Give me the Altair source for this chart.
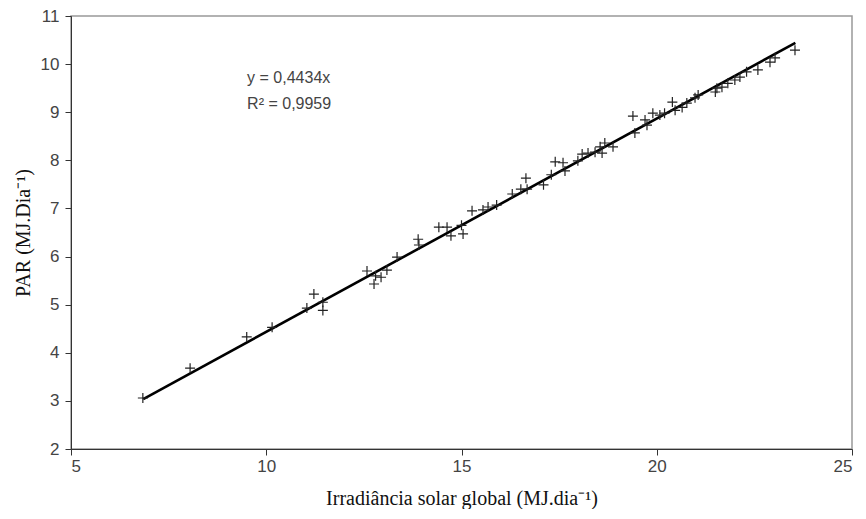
import altair as alt
import pandas as pd

# Data
irr = [6.84, 8.05, 9.5, 10.15, 11.04, 11.22, 11.45, 11.45, 12.58, 12.76, 12.94, 12.8, 13.09,
       13.35, 13.89, 13.91, 14.42, 14.63, 14.73, 15.0, 15.04, 15.27, 15.55, 15.68, 15.9,
       16.3, 16.52, 16.65, 16.68, 17.1, 17.3, 17.4, 17.6, 17.65, 17.98, 18.09, 18.24,
       18.42, 18.55, 18.6, 18.67, 18.88, 19.39, 19.44, 19.7, 19.75, 19.9, 20.08, 20.2,
       20.4, 20.47, 20.65, 20.77, 20.98, 21.06, 21.5, 21.54, 21.67, 21.82, 22.0, 22.13,
       22.3, 22.59, 22.9, 23.03, 23.54]
par = [3.06, 3.68, 4.33, 4.53, 4.93, 5.22, 5.05, 4.88, 5.70, 5.43, 5.57, 5.6, 5.72,
       5.99, 6.36, 6.24, 6.61, 6.61, 6.43, 6.65, 6.47, 6.95, 6.97, 7.03, 7.07,
       7.3, 7.4, 7.63, 7.4, 7.49, 7.7, 7.97, 7.95, 7.78, 7.99, 8.13, 8.15,
       8.17, 8.28, 8.15, 8.36, 8.28, 8.92, 8.57, 8.84, 8.73, 8.98, 8.94, 8.98,
       9.21, 9.04, 9.1, 9.19, 9.3, 9.36, 9.42, 9.5, 9.52, 9.6, 9.67, 9.73,
       9.84, 9.88, 10.04, 10.13, 10.29]

slope = 0.4434
line_x = [6.85, 23.55]
ann_x = [9.51, 9.51]
ann_y = [9.71, 9.17]
ann_text = ["y = 0,4434x", "R² = 0,9959"]

pts = pd.DataFrame({"x": irr, "y": par})
fit = pd.DataFrame({"x": line_x, "y": [slope * v for v in line_x]})
ann = pd.DataFrame({"x": ann_x, "y": ann_y, "t": ann_text})

xs = alt.Scale(domain=[5, 25], nice=False, zero=False)
ys = alt.Scale(domain=[2, 11], nice=False, zero=False)

xaxis = alt.Axis(values=[5, 10, 15, 20, 25], title="Irradiância solar global (MJ.dia⁻¹)",
                 grid=False, domainColor="#333", tickColor="#333", tickSize=6,
                 labelFont="Liberation Sans", labelFontSize=17, labelColor="#444",
                 labelPadding=3, titleFont="Liberation Serif", titleFontSize=20,
                 titleFontWeight="normal", titleColor="#111", titleBaseline="middle", titleY=49)
yaxis = alt.Axis(values=list(range(2, 12)), title="PAR (MJ.Dia⁻¹)",
                 grid=False, domainColor="#333", tickColor="#333", tickSize=6,
                 labelFont="Liberation Sans", labelFontSize=17, labelColor="#444",
                 labelPadding=6, titleFont="Liberation Serif", titleFontSize=20,
                 titleFontWeight="normal", titleColor="#111", titleBaseline="middle",
                 titleX=-48, titleY=216.5)

points = alt.Chart(pts).mark_point(
    shape="M-1,0L1,0M0,-1L0,1", size=100, filled=False, color="#222", strokeWidth=1.2, opacity=1
).encode(x=alt.X("x:Q", scale=xs, axis=xaxis), y=alt.Y("y:Q", scale=ys, axis=yaxis))

line = alt.Chart(fit).mark_line(color="#000", strokeWidth=2.6).encode(
    x=alt.X("x:Q", scale=xs), y=alt.Y("y:Q", scale=ys))

text = alt.Chart(ann).mark_text(align="left", baseline="middle", font="Liberation Sans",
                                fontSize=16, color="#444").encode(
    x=alt.X("x:Q", scale=xs), y=alt.Y("y:Q", scale=ys), text="t:N")

chart = alt.layer(line, points, text).properties(
    width=781, height=433,
    autosize=alt.AutoSizeParams(type="none"),
    padding={"left": 63, "top": 8, "right": 6, "bottom": 60},
    background="white",
).configure_view(stroke="#999", strokeWidth=1.5)

chart.save("out.html", embed_options={"renderer": "svg", "actions": False})
